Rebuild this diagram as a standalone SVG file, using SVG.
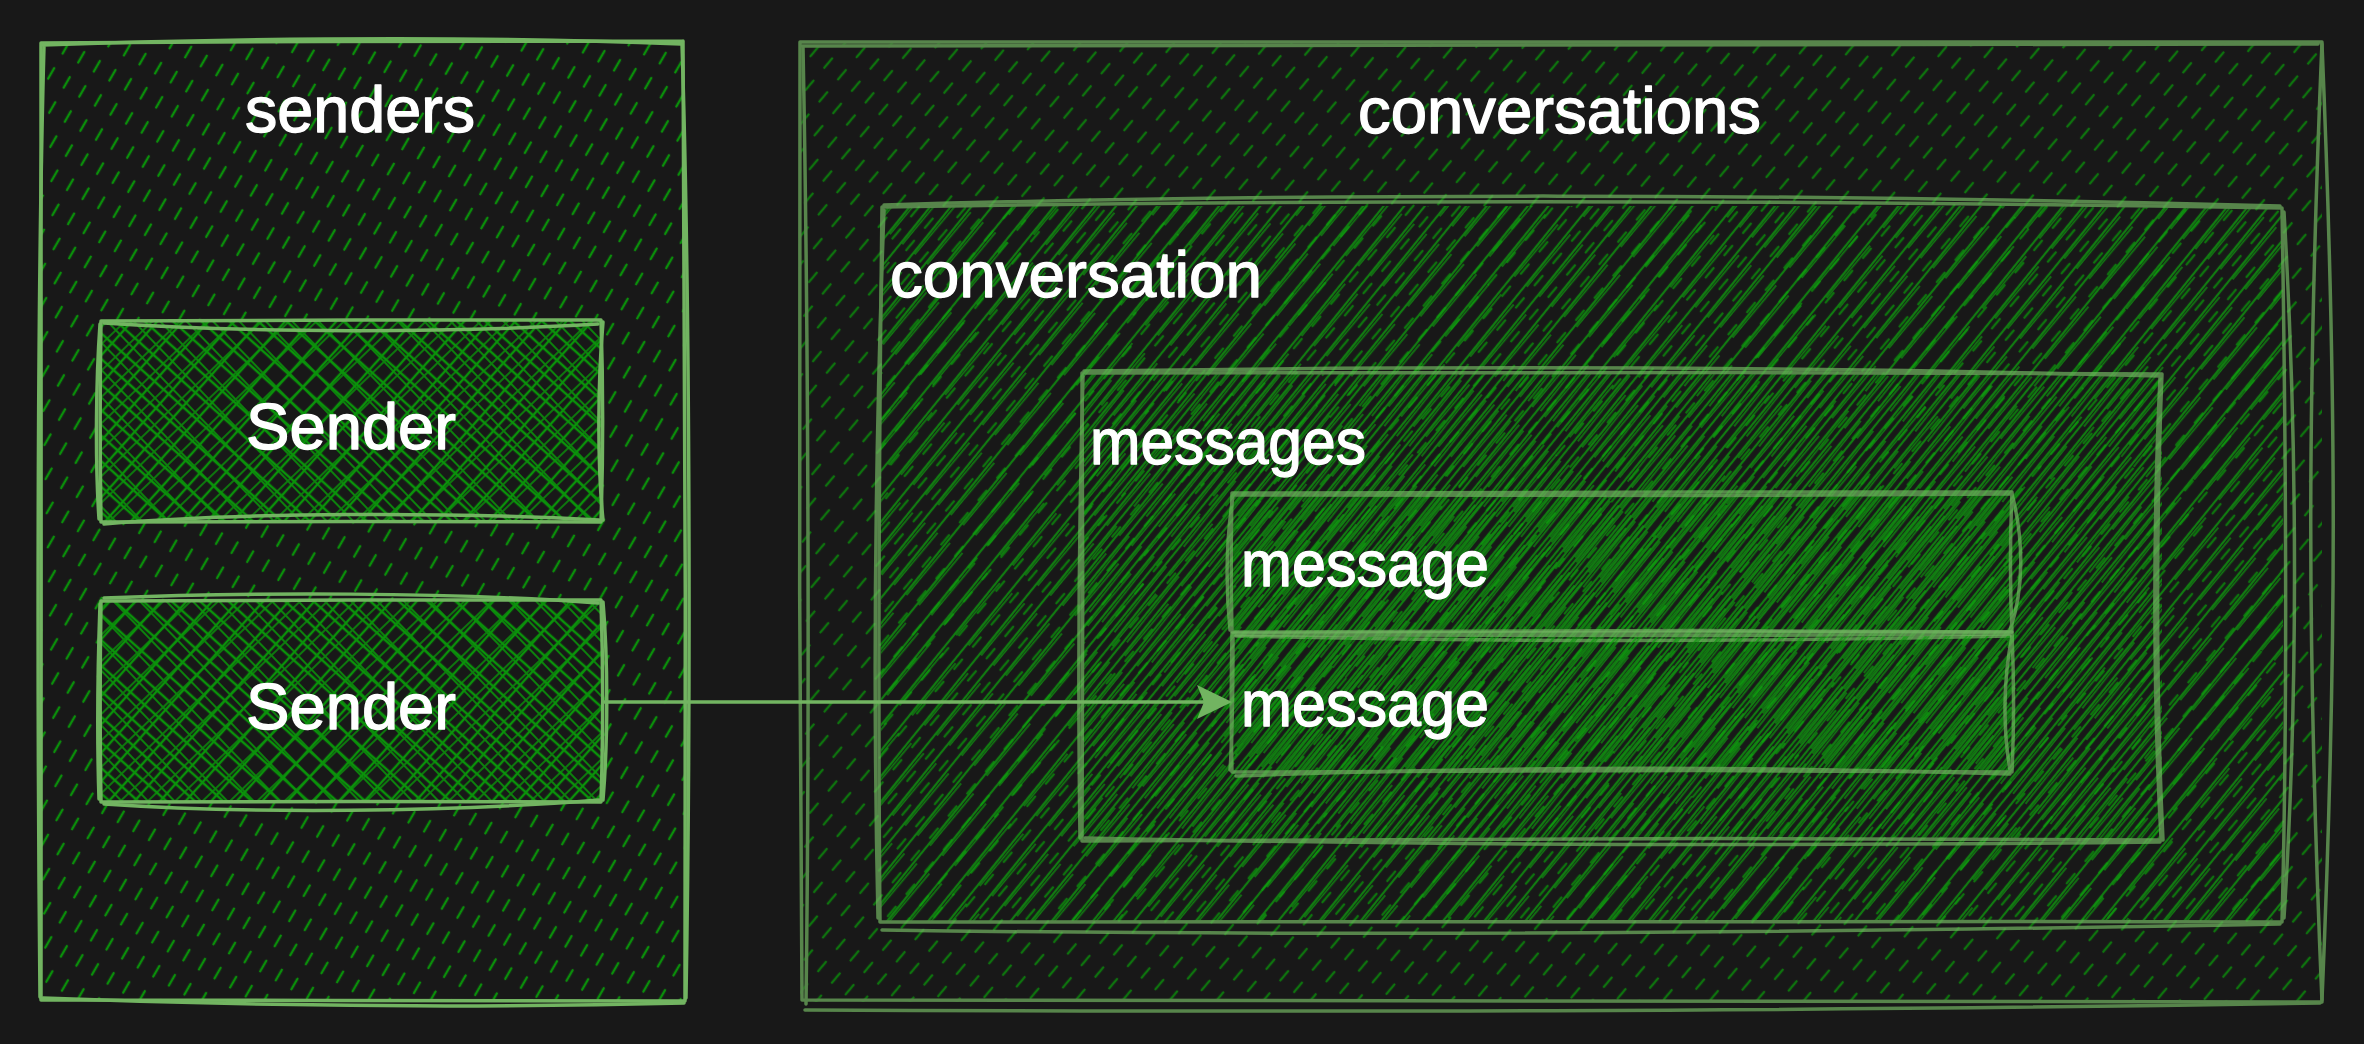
<svg xmlns="http://www.w3.org/2000/svg" width="2364" height="1044" viewBox="0 0 2364 1044">
<defs>
<style>
.edge{fill:none;stroke:#72b461;stroke-width:3.5;stroke-linecap:round;stroke-linejoin:round}
.lbl{font-family:"Liberation Sans",Arial,sans-serif;font-size:64px;fill:#ffffff;stroke:#ffffff;stroke-width:1.3px;stroke-linejoin:round}
.dim{opacity:0.7}
.arrow{fill:none;stroke:#72b461;stroke-width:3.5;stroke-linecap:round}
</style>
<pattern id="dashL" patternUnits="userSpaceOnUse" width="18" height="29" patternTransform="rotate(30)">
<path d="M9,3 L9,15" stroke="#0a8f0a" stroke-width="2.4" stroke-linecap="round"/>
</pattern>
<pattern id="dashR" patternUnits="userSpaceOnUse" width="18" height="29" patternTransform="rotate(40)">
<path d="M9,3 L9,15" stroke="#0a9a0a" stroke-width="2.4" stroke-linecap="round"/>
</pattern>
<pattern id="hach1" patternUnits="userSpaceOnUse" width="16" height="90" patternTransform="rotate(39)">
<path d="M5,0 V90" stroke="#0fa60f" stroke-width="2.2"/>
<path d="M8,4 L7,72" stroke="#0fa60f" stroke-width="1.6"/>
</pattern>
<pattern id="hach2" patternUnits="userSpaceOnUse" width="16" height="110" patternTransform="rotate(39) translate(8,30)">
<path d="M5,0 V110" stroke="#0fa60f" stroke-width="2.2"/>
<path d="M7,6 L8,90" stroke="#0fa60f" stroke-width="1.6"/>
</pattern>
<pattern id="hach3" patternUnits="userSpaceOnUse" width="16" height="70" patternTransform="rotate(39) translate(4,15)">
<path d="M5,0 V70" stroke="#0fa60f" stroke-width="2.2"/>
<path d="M8,2 L7,60" stroke="#0fa60f" stroke-width="1.6"/>
</pattern>
<pattern id="cross1" patternUnits="userSpaceOnUse" width="19" height="19" patternTransform="rotate(42)">
<path d="M9,0 V19 M0,9 H19" stroke="#0a930a" stroke-width="2.4"/>
</pattern>
<pattern id="cross2" patternUnits="userSpaceOnUse" width="19" height="19" patternTransform="rotate(46) translate(5,4)">
<path d="M9,0 V19 M0,9 H19" stroke="#0a930a" stroke-width="1.8" opacity="0.85"/>
</pattern>
<marker id="ah" markerUnits="userSpaceOnUse" markerWidth="40" markerHeight="40" refX="29" refY="18" orient="auto">
<path d="M0,1 L35,18 L0,35 L7,18 Z" fill="#72b461"/>
</marker>
</defs>
<rect width="2364" height="1044" fill="#181818"/>

<g id="senders">
<rect x="41" y="42" width="643" height="959" fill="url(#dashL)"/>
<path class="edge" d="M41,43 C250,42 480,40 683,41 M683,41 C685,300 686,700 685,1001 M685,1001 C480,1000 250,1001 41,1000 M41,1000 C42,700 40,300 41,43"/>
<path class="edge" d="M43,45 C250,38 480,36 681,44 M682,44 C690,300 691,700 686,998 M684,1003 C480,1008 250,1006 43,998 M40,997 C37,700 37,300 44,46"/>
<text class="lbl" x="245" y="132" textLength="230" lengthAdjust="spacingAndGlyphs">senders</text>
</g>

<g id="sender1">
<rect x="101" y="320" width="501" height="202" fill="#181818"/>
<rect x="101" y="320" width="501" height="202" fill="url(#cross1)"/>
<rect x="101" y="320" width="501" height="202" fill="url(#cross2)"/>
<path class="edge" d="M101,321 C250,320 450,320 601,320 M601,320 C603,380 603,460 601,522 M601,522 C450,521 250,522 101,522 M101,522 C100,460 100,380 101,321"/>
<path class="edge" d="M104,323 C250,333 450,333 598,324 M603,322 C598,380 597,460 603,520 M599,520 C450,512 250,512 104,524 M99,519 C95,460 96,380 100,324"/>
<text class="lbl" x="246" y="449" textLength="210" lengthAdjust="spacingAndGlyphs">Sender</text>
</g>

<g id="sender2">
<rect x="101" y="600" width="501" height="202" fill="#181818"/>
<rect x="101" y="600" width="501" height="202" fill="url(#cross1)"/>
<rect x="101" y="600" width="501" height="202" fill="url(#cross2)"/>
<path class="edge" d="M101,601 C250,600 450,600 601,600 M601,600 C603,660 603,740 601,802 M601,802 C450,801 250,802 101,802 M101,802 C100,740 100,660 101,601"/>
<path class="edge" d="M104,598 C250,592 450,592 598,603 M603,602 C608,660 608,740 603,800 M599,800 C450,812 250,814 104,804 M99,799 C97,740 98,660 100,604"/>
<text class="lbl" x="246" y="729" textLength="210" lengthAdjust="spacingAndGlyphs">Sender</text>
</g>

<g id="conversations">
<g class="dim">
<rect x="800" y="42" width="1522" height="960" fill="url(#dashR)"/>
<path class="edge" d="M800,42 C1300,44 1800,44 2322,42 M2322,42 C2307,400 2307,650 2322,1002 M2322,1002 C1800,1000 1300,1001 802,1000 M802,1000 C799,700 799,300 800,42"/>
<path class="edge" d="M802,46 C1300,48 1800,47 2318,44 M2322,44 C2337,400 2337,650 2322,1000 M2320,1003 C1800,1012 1300,1012 805,1010 M806,1004 C810,700 808,300 803,47"/>
</g>
<text class="lbl" x="1358" y="133" textLength="403" lengthAdjust="spacingAndGlyphs">conversations</text>
</g>

<g id="conversation">
<g class="dim">
<rect x="881" y="206" width="1402" height="716" fill="url(#hach1)"/>
<path class="edge" d="M882,207 C1300,200 1800,200 2282,208 M2282,208 C2286,450 2288,700 2282,922 M2282,922 C1800,921 1300,921 880,922 M880,922 C878,700 879,450 882,207"/>
<path class="edge" d="M884,205 C1300,193 1800,193 2280,206 M2284,212 C2298,450 2298,700 2284,918 M2280,924 C1800,933 1300,936 882,930 M878,918 C873,700 875,450 884,210"/>
</g>
<text class="lbl" x="890" y="297" textLength="372" lengthAdjust="spacingAndGlyphs">conversation</text>
</g>

<g id="messages">
<g class="dim">
<rect x="1082" y="372" width="1080" height="468" fill="url(#hach2)"/>
<path class="edge" d="M1082,373 C1450,372 1800,372 2162,374 M2162,374 C2156,520 2156,700 2163,840 M2163,840 C1800,838 1450,838 1082,841 M1082,841 C1083,700 1083,520 1082,373"/>
<path class="edge" d="M1084,371 C1450,366 1800,366 2160,376 M2160,378 C2153,520 2153,700 2161,838 M2160,842 C1800,846 1450,846 1085,838 M1080,838 C1078,700 1079,520 1083,376"/>
</g>
<text class="lbl" x="1090" y="464" textLength="276" lengthAdjust="spacingAndGlyphs">messages</text>
</g>

<g id="message1">
<g class="dim">
<rect x="1232" y="492" width="780" height="140" fill="url(#hach3)"/>
<path class="edge" d="M1232,493 C1500,492 1750,492 2012,492 M2012,492 C2010,540 2010,590 2012,632 M2012,632 C1750,630 1500,630 1232,632 M1232,632 C1231,590 1231,540 1232,493"/>
<path class="edge" d="M1234,495 C1500,496 1750,496 2010,494 M2012,494 C2024,540 2024,590 2010,630 M2010,636 C1750,642 1500,642 1236,636 M1230,630 C1226,590 1226,540 1233,496"/>
</g>
<text class="lbl" x="1241" y="586" textLength="248" lengthAdjust="spacingAndGlyphs">message</text>
</g>

<g id="message2">
<g class="dim">
<rect x="1232" y="632" width="780" height="140" fill="url(#hach3)"/>
<path class="edge" d="M1232,633 C1500,632 1750,632 2012,632 M2012,632 C2014,680 2014,730 2012,772 M2012,772 C1750,770 1500,770 1232,772 M1232,772 C1231,730 1231,680 1232,633"/>
<path class="edge" d="M1234,635 C1500,636 1750,636 2010,634 M2012,636 C2003,680 2003,730 2010,770 M2010,774 C1750,766 1500,766 1236,776 M1230,770 C1233,730 1233,680 1233,636"/>
</g>
<text class="lbl" x="1241" y="726" textLength="248" lengthAdjust="spacingAndGlyphs">message</text>
</g>

<g id="connectors">
<path class="arrow" d="M604,702 L1226,702" marker-end="url(#ah)"/>
</g>
</svg>
